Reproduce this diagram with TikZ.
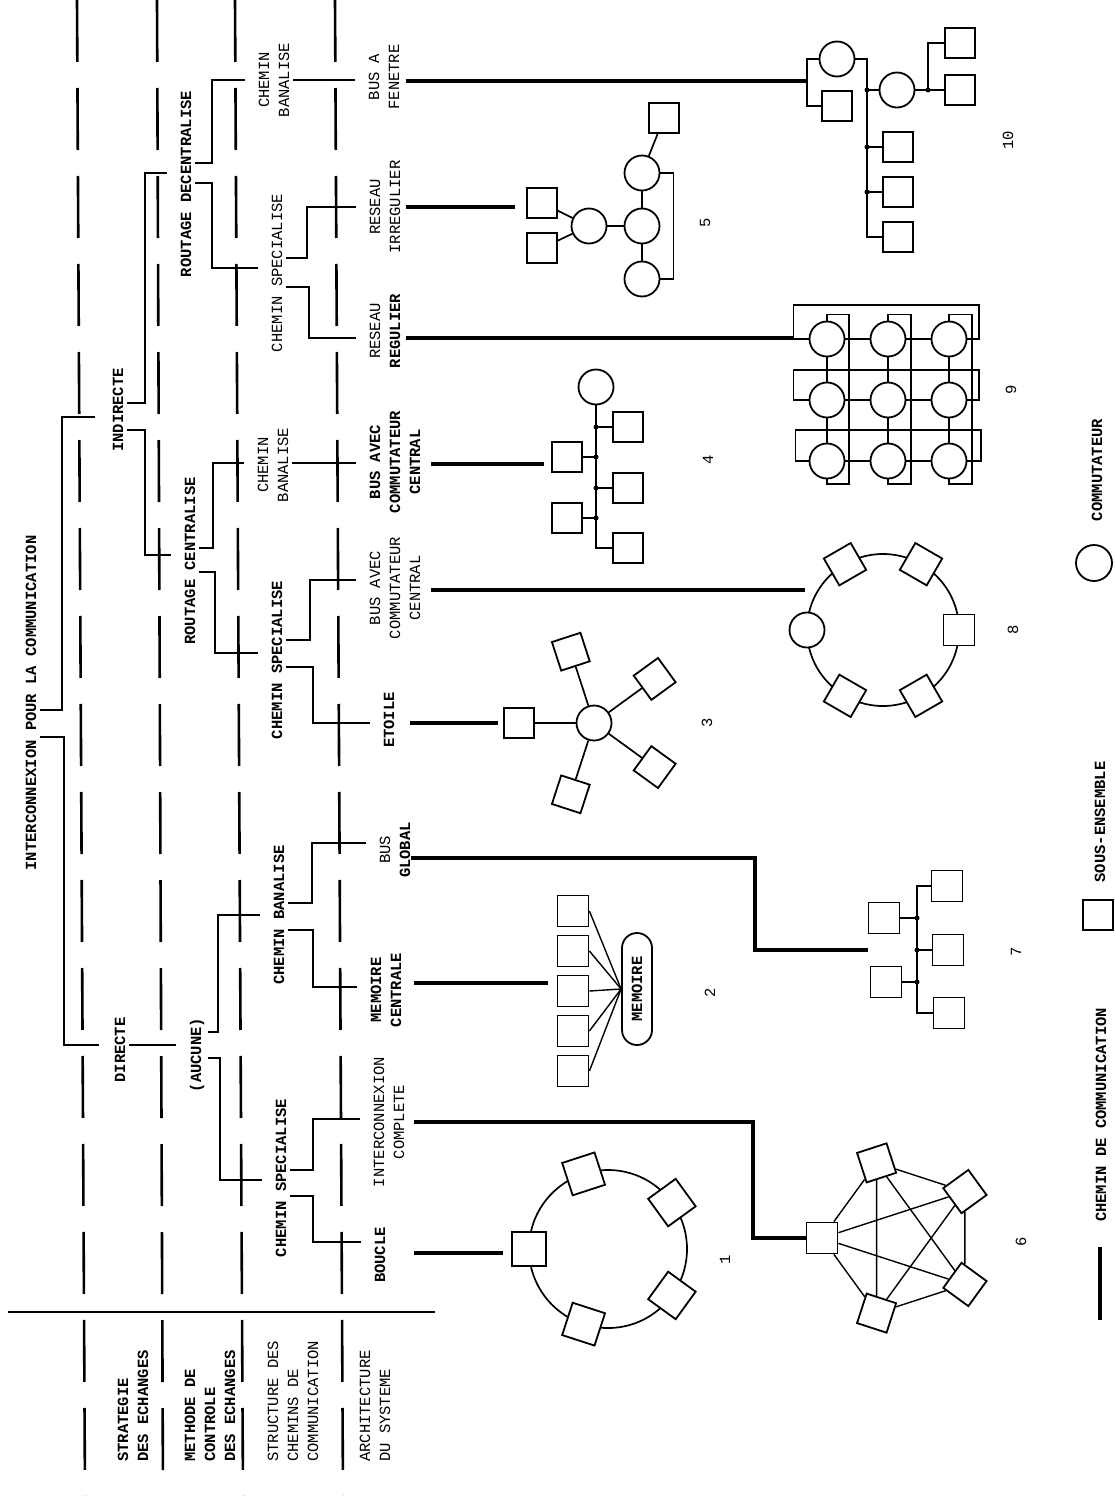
\documentclass[tikz,border=0pt]{standalone}
\usepackage{fontspec}
\setmonofont{Liberation Mono}
\usetikzlibrary{calc}
\newcommand\lblfont{\ttfamily\fontsize{15.5}{20}\selectfont}
\begin{document}
\begin{tikzpicture}[x=1pt,y=-1pt,
  tree/.style={line width=2.4pt, shorten >=13pt, shorten <=3pt},
  arch/.style={line width=3.6pt},
  dsh/.style={line width=2.6pt, dash pattern=on 62pt off 26pt},
  fig/.style={line width=1.7pt},
  thinl/.style={line width=1.4pt},
  sq/.style={draw, fill=white, line width=1.8pt, minimum size=31pt, inner sep=0pt},
  sw/.style={draw, circle, fill=white, line width=1.8pt, minimum size=35pt, inner sep=0pt},
  ring/.style={draw, circle, line width=1.7pt, inner sep=0pt},
  dot/.style={circle, fill, inner sep=0pt, minimum size=5pt},
  lbl/.style={rotate=90, font=\lblfont, inner sep=1pt, align=center},
  blbl/.style={lbl, font=\lblfont\bfseries},
  num/.style={rotate=90, font=\lblfont, inner sep=0pt}]
\useasboundingbox (0,0) rectangle (1115,1496);
\fill[white] (0,0) rectangle (1115,1496);

% dashed level separators
\draw[dsh] (77,0) -- (85,1496);
\draw[dsh] (157,0) -- (163,1496);
\draw[dsh] (235,0) -- (243,1496);
\draw[dsh] (335,0) -- (343,1496);
\draw[line width=2.6pt] (8,1312) -- (435,1312);

% tree labels
\node[blbl] (title) at (31,703) {INTERCONNEXION POUR LA COMMUNICATION};
\node[blbl] (ind) at (118,410) {INDIRECTE};
\node[blbl] (dir) at (120,1050) {DIRECTE};
\node[blbl] (rdec) at (186,184) {ROUTAGE DECENTRALISE};
\node[blbl] (rcen) at (190,561) {ROUTAGE CENTRALISE};
\node[blbl] (auc) at (197,1055) {(AUCUNE)};
\node[lbl] (cbt) at (274,80) {CHEMIN\\BANALISE};
\node[lbl] (cst) at (277,273) {CHEMIN SPECIALISE};
\node[lbl] (cbm) at (273,465) {CHEMIN\\BANALISE};
\node[blbl] (csm) at (277,660) {CHEMIN SPECIALISE};
\node[blbl] (cbl) at (279,915) {CHEMIN BANALISE};
\node[blbl] (csl) at (281,1178) {CHEMIN SPECIALISE};
\node[lbl] (bfen) at (384,77) {BUS A\\FENETRE};
\node[lbl] (rirr) at (385,207) {RESEAU\\IRREGULIER};
\node[lbl] (rreg) at (385,331) {RESEAU\\\textbf{REGULIER}};
\node[blbl] (bac1) at (395,462) {BUS AVEC\\COMMUTATEUR\\CENTRAL};
\node[lbl] (bac2) at (395,588) {BUS AVEC\\COMMUTATEUR\\CENTRAL};
\node[blbl] (etoile) at (389,720) {ETOILE};
\node[lbl] (bglob) at (395,850) {BUS\\\textbf{GLOBAL}};
\node[blbl] (memc) at (386,990) {MEMOIRE\\CENTRALE};
\node[lbl] (icomp) at (389,1122) {INTERCONNEXION\\COMPLETE};
\node[blbl] (boucle) at (380,1255) {BOUCLE};

% row headings
\node[blbl, align=left, anchor=west] (lstr) at (133,1463) {STRATEGIE\\DES ECHANGES};
\node[blbl, align=left, anchor=west] (lmeth) at (210,1463) {METHODE DE\\CONTROLE\\DES ECHANGES};
\node[lbl, align=left, anchor=west] (lstruc) at (293,1463) {STRUCTURE DES\\CHEMINS DE\\COMMUNICATION};
\node[lbl, align=left, anchor=west] (larch) at (375,1463) {ARCHITECTURE\\DU SYSTEME};

% tree connectors
\draw[tree, shorten >=17pt] (title.south |- 0,710) -| (62,417) -- (ind.north |- 0,417);
\draw[tree, shorten >=15pt] (title.south |- 0,737) -| (64,1045) -- (dir.north |- 0,1045);
\draw[tree] (ind.south |- 0,403) -| (145,173) -- (rdec.north |- 0,173);
\draw[tree] (ind.south |- 0,430) -| (145,555) -- (rcen.north |- 0,555);
\draw[tree] (dir.south |- 0,1045) -- (auc.north |- 0,1045);
\draw[tree] (auc.south |- 0,1032) -| (218,915) -- (cbl.north |- 0,915);
\draw[tree] (auc.south |- 0,1058) -| (220,1180) -- (csl.north |- 0,1180);
\draw[tree] (rdec.south |- 0,163) -| (212,80) -- (cbt.north |- 0,80);
\draw[tree] (rdec.south |- 0,183) -| (212,268) -- (cst.north |- 0,268);
\draw[tree] (rcen.south |- 0,548) -| (213,463) -- (cbm.north |- 0,463);
\draw[tree] (rcen.south |- 0,572) -| (215,653) -- (csm.north |- 0,653);
\draw[tree] (cst.south |- 0,258) -| (307,207) -- (rirr.north |- 0,207);
\draw[tree] (cst.south |- 0,287) -| (309,338) -- (rreg.north |- 0,338);
\draw[tree] (cbt.south |- 0,80) -- (bfen.north |- 0,80);
\draw[tree] (cbm.south |- 0,463) -- (bac1.north |- 0,463);
\draw[tree] (csm.south |- 0,640) -| (310,580) -- (bac2.north |- 0,580);
\draw[tree] (csm.south |- 0,667) -| (313,723) -- (etoile.north |- 0,723);
\draw[tree] (cbl.south |- 0,903) -| (312,843) -- (bglob.north |- 0,843);
\draw[tree] (cbl.south |- 0,930) -| (313,987) -- (memc.north |- 0,987);
\draw[tree] (csl.south |- 0,1170) -| (313,1119) -- (icomp.north |- 0,1119);
\draw[tree] (csl.south |- 0,1196) -| (313,1242) -- (boucle.north |- 0,1242);

% ---- Fig 1 : boucle
\coordinate (c1) at (608,1249);
\node[ring, minimum size=158pt] (r1) at (c1) {};
\foreach \a [count=\i] in {180,252,324,36,108}
  \node[sq, minimum size=34pt, rotate=-\a] (s1-\i) at ([shift={(\a:79)}]c1) {};
\coordinate (f1in) at (503,1253);

% ---- Fig 6 : interconnexion complete
\coordinate (c6) at (901,1238);
\foreach \a [count=\i] in {180,252,324,36,108}
  \node[sq, rotate=-\a] (s6-\i) at ([shift={(\a:79)}]c6) {};
\foreach \i/\j in {1/2,1/3,1/4,1/5,2/3,2/4,2/5,3/4,3/5,4/5}
  \draw[thinl] (s6-\i) -- (s6-\j);

% ---- Fig 3 : etoile
\coordinate (c3) at (594,723);
\node[sw] (h3) at (c3) {};
\foreach \a [count=\i] in {180,252,324,36,108} {
  \node[sq, minimum size=30pt, rotate=-\a] (s3-\i) at ([shift={(\a:75)}]c3) {};
  \draw[fig] (h3) -- (s3-\i);
}
\coordinate (f3in) at (498,723);

% ---- Fig 8 : anneau avec commutateur
\coordinate (c8) at (883,630);
\node[ring, minimum size=152pt] (r8) at (c8) {};
\node[sw] (h8) at ([shift={(180:76)}]c8) {};
\foreach \a [count=\i] in {0,60,120,240,300}
  \node[sq, rotate=-\a] (s8-\i) at ([shift={(\a:76)}]c8) {};
\coordinate (f8in) at (805,590);

% ---- Fig 4 : bus avec commutateur central
\node[sw] (h4) at (596,387) {};
\node[sq, minimum size=30pt] (b1) at (628,427) {};
\node[sq, minimum size=30pt] (b2) at (567,457) {};
\node[sq, minimum size=30pt] (b3) at (628,488) {};
\node[sq, minimum size=30pt] (b4) at (567,518) {};
\node[sq, minimum size=30pt] (b5) at (628,548) {};
\draw[fig] (h4) |- (b5);
\foreach \y/\b in {427/b1,457/b2,488/b3,518/b4} {
  \coordinate (k\b) at (596,\y);
  \draw[fig] (k\b) -- (\b);
  \node[dot] (dk\b) at (k\b) {};
}
\coordinate (f4in) at (544,464);

% ---- Fig 5 : reseau irregulier
\node[sq, minimum size=30pt] (v1) at (542,203) {};
\node[sq, minimum size=30pt] (v2) at (542,248) {};
\node[sw] (fa) at (589,226) {};
\node[sw] (fb) at (642,173) {};
\node[sw] (fc) at (642,226) {};
\node[sw] (fd) at (642,279) {};
\node[sq, minimum size=30pt] (v3) at (664,118) {};
\draw[fig] (v1) -- (fa);
\draw[fig] (v2) -- (fa);
\draw[fig] (fa) -- (fc);
\draw[fig] (fb) -- (fc) -- (fd);
\draw[fig] (fb) -- (v3);
\draw[fig] (fb.east) -- ++(13,0) |- (fd.east);
\coordinate (f5in) at (515,207);

% ---- Fig 9 : reseau regulier
\foreach \y [count=\r] in {339,400,461} {
  \foreach \x [count=\c] in {827,888,949} {
    \node[sw] (g\r\c) at (\x,\y) {};
  }
}
\foreach \r in {1,2,3} \draw[fig] (g\r1) -- (g\r2) -- (g\r3);
\foreach \c in {1,2,3} \draw[fig] (g1\c) -- (g2\c) -- (g3\c);
\draw[fig] (g11.west) -- ++(-15,0) |- (979,305) |- (g13.east);
\draw[fig] (g21.west) -- ++(-15,0) |- (979,370) |- (g23.east);
\draw[fig] (g31.west) -- ++(-13,0) |- (981,430) |- (g33.east);
\draw[fig] (g11.north) -- ++(0,-6) -| (849,484) -| (g31.south);
\draw[fig] (g12.north) -- ++(0,-6) -| (911,484) -| (g32.south);
\draw[fig] (g13.north) -- ++(0,-6) -| (972,484) -| (g33.south);
\coordinate (f9in) at (793,338);

% ---- Fig 10 : bus a fenetre
\node[sw] (tp) at (837,59) {};
\node[sq, minimum size=30pt] (tq) at (837,106) {};
\draw[fig] (tp.west) -- (807,59) |- (tq.west);
\coordinate (f10in) at (807,81);
\node[sq, minimum size=30pt] (ts1) at (898,147) {};
\node[sq, minimum size=30pt] (ts2) at (898,192) {};
\node[sq, minimum size=30pt] (ts3) at (898,237) {};
\draw[fig] (tp.east) -| (867,237) -- (ts3);
\node[sw] (tr) at (897,90) {};
\node[sq, minimum size=30pt] (tu1) at (960,43) {};
\node[sq, minimum size=30pt] (tu2) at (960,90) {};
\coordinate (j1) at (867,90);
\coordinate (j2) at (928,90);
\coordinate (j3) at (867,147);
\coordinate (j4) at (867,192);
\draw[fig] (j1) -- (tr) -- (j2);
\draw[fig] (j2) |- (tu1);
\draw[fig] (j2) -- (tu2);
\draw[fig] (j3) -- (ts1);
\draw[fig] (j4) -- (ts2);
\foreach \j in {j1,j2,j3,j4} \node[dot] (d\j) at (\j) {};

% ---- Fig 7 : bus global
\node[sq] (e1) at (884,918) {};
\node[sq] (e2) at (947,886) {};
\node[sq] (e3) at (948,950) {};
\node[sq] (e4) at (886,982) {};
\node[sq] (e5) at (949,1013) {};
\draw[fig] (e2) -| (917,1013) -- (e5);
\coordinate (m1) at (917,918);
\coordinate (m2) at (917,950);
\coordinate (m3) at (917,982);
\draw[fig] (m1) -- (e1);
\draw[fig] (m2) -- (e3);
\draw[fig] (m3) -- (e4);
\foreach \m in {m1,m2,m3} \node[dot] (d\m) at (\m) {};
\coordinate (f7in) at (868,950);

% ---- Fig 2 : memoire centrale
\foreach \i in {1,...,5} \node[sq] (q\i) at (573,{871+40*\i}) {};
\node[draw, line width=1.8pt, rounded corners=15pt, minimum width=112pt, minimum height=30pt,
      inner sep=0pt, rotate=90, font=\lblfont\bfseries] (mem) at (637,989) {MEMOIRE};
\foreach \i in {1,...,5} \draw[thinl] (q\i.east) -- (mem.north);
\coordinate (f2in) at (548,983);

% ---- architecture connectors
\draw[arch, shorten <=6pt] (bfen.south |- 0,81) -- (f10in);
\draw[arch, shorten <=5pt] (rirr.south |- 0,207) -- (f5in);
\draw[arch, shorten <=5pt] (rreg.south |- 0,338) -- (f9in);
\draw[arch, shorten <=10pt] (bac1.south |- 0,464) -- (f4in);
\draw[arch, shorten <=10pt] (bac2.south |- 0,590) -- (f8in);
\draw[arch, shorten <=15pt] (etoile.south |- 0,723) -- (f3in);
\draw[arch] (bglob.south |- 0,858) -| (755,950) -- (f7in);
\draw[arch, shorten <=12pt] (memc.south |- 0,983) -- (f2in);
\draw[arch, shorten <=9pt] (icomp.south |- 0,1122) -| (753,1238) -- (s6-1);
\draw[arch, shorten <=28pt] (boucle.south |- 0,1253) -- (f1in);

% ---- numbers
\node[num] (n1) at (725,1260) {1};
\node[num] (n2) at (710,993) {2};
\node[num] (n3) at (707,723) {3};
\node[num] (n4) at (708,460) {4};
\node[num] (n5) at (705,223) {5};
\node[num] (n6) at (1021,1242) {6};
\node[num] (n7) at (1016,952) {7};
\node[num] (n8) at (1013,630) {8};
\node[num] (n9) at (1011,390) {9};
\node[num] (n10) at (1008,140) {10};

% ---- legend
\node[sw, minimum size=36pt] (lgc) at (1094,563) {};
\node[blbl] (lgct) at (1097,470) {COMMUTATEUR};
\node[sq, minimum size=30pt] (lgs) at (1098,915) {};
\node[blbl] (lgst) at (1100,822) {SOUS-ENSEMBLE};
\coordinate (lga) at (1100,1247);
\coordinate (lgb) at (1100,1320);
\draw[arch] (lga) -- (lgb);
\node[blbl] (lglt) at (1101,1115) {CHEMIN DE COMMUNICATION};
\end{tikzpicture}
\end{document}
